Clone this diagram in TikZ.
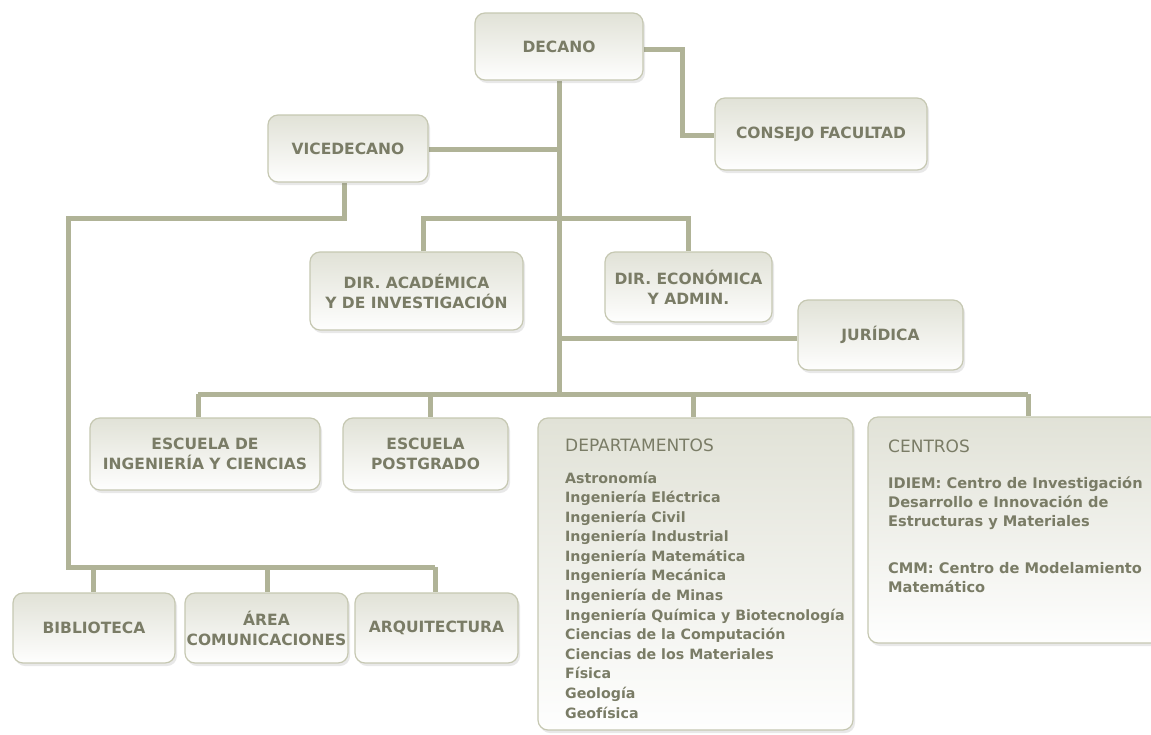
\documentclass[tikz,border=0pt]{standalone}
\usepackage{fontspec}
\setmainfont{DejaVu Sans}
\usetikzlibrary{shadows,backgrounds}
\definecolor{linec}{HTML}{B0B397}
\definecolor{boxdraw}{HTML}{C6C8B2}
\definecolor{boxtop}{HTML}{E1E2D7}
\definecolor{txtc}{HTML}{7A7C66}
\tikzset{
  orgbox/.style={draw=boxdraw, line width=1.2pt, rounded corners=10pt,
    top color=boxtop, bottom color=white!97!boxtop,
    drop shadow={shadow xshift=2pt, shadow yshift=-3pt, opacity=0.15, fill=black!60},
    text=txtc, font=\fontsize{15.5}{20}\selectfont\bfseries, align=center, inner sep=0pt},
  conn/.style={draw=linec, line width=5pt},
  hdr/.style={anchor=base west, inner sep=0pt, text=txtc, font=\fontsize{17}{20}\selectfont},
  item/.style={anchor=base west, inner sep=0pt, text=txtc, font=\fontsize{14.2}{19.6}\selectfont\bfseries, align=left},
  citem/.style={item, font=\fontsize{14.6}{19.6}\selectfont\bfseries},
}
\begin{document}
\begin{tikzpicture}[x=1pt,y=-1pt]
\useasboundingbox (0,0) rectangle (1151,734);

\coordinate (bar) at (559,394);
\coordinate (dr) at (682,49);
\coordinate (dcr) at (682,135);
\coordinate (vj) at (559,149);
\coordinate (jj) at (559,338);
\coordinate (vd1) at (344,218);
\coordinate (vd2) at (68,218);
\coordinate (vd3) at (68,567);
\coordinate (bb1) at (93,567);
\coordinate (bb2) at (267,567);
\coordinate (bb3) at (435,567);
\coordinate (ad1) at (423,218);
\coordinate (ad2) at (688,218);
\coordinate (mb1) at (198,394);
\coordinate (mb2) at (430,394);
\coordinate (mb3) at (693,394);
\coordinate (mb4) at (1028,394);

\node[orgbox, minimum width=168pt, minimum height=67pt] (decano) at (559,46.5) {DECANO};
\node[orgbox, minimum width=212pt, minimum height=72pt] (consejo) at (821,134) {CONSEJO FACULTAD};
\node[orgbox, minimum width=160pt, minimum height=67pt] (vice) at (348,148.5) {VICEDECANO};
\node[orgbox, minimum width=213pt, minimum height=78pt] (dacad) at (416.5,291) {DIR. ACADÉMICA\\Y DE INVESTIGACIÓN};
\node[orgbox, minimum width=167pt, minimum height=70pt] (decon) at (688.5,287) {DIR. ECONÓMICA\\Y ADMIN.};
\node[orgbox, minimum width=165pt, minimum height=70pt] (jur) at (880.5,335) {JURÍDICA};
\node[orgbox, minimum width=230pt, minimum height=72pt] (esc) at (205,454) {ESCUELA DE\\INGENIERÍA Y CIENCIAS};
\node[orgbox, minimum width=165pt, minimum height=72pt] (post) at (425.5,454) {ESCUELA\\POSTGRADO};
\node[orgbox, minimum width=315pt, minimum height=312pt] (depto) at (695.5,574) {};
\node[orgbox, minimum width=297pt, minimum height=226pt] (centros) at (1016.5,530) {};
\node[orgbox, minimum width=162pt, minimum height=70pt] (bib) at (94,628) {BIBLIOTECA};
\node[orgbox, minimum width=163pt, minimum height=70pt] (area) at (266.5,628) {ÁREA\\COMUNICACIONES};
\node[orgbox, minimum width=163pt, minimum height=70pt] (arq) at (436.5,628) {ARQUITECTURA};

\begin{scope}[on background layer]
\fill[white] (0,0) rectangle (1151,734);
\draw[conn] (decano.south) -- (bar);
\draw[conn] (dr -| decano.east) -- (dr) -- (dcr) -- (consejo.west |- dcr);
\draw[conn] (vice.east |- vj) -- (vj);
\draw[conn] (vice.south -| vd1) -- (vd1) -- (vd2) -- (vd3) -- (bb3);
\draw[conn] (bb1) -- (bib.north -| bb1);
\draw[conn] (bb2) -- (area.north -| bb2);
\draw[conn] (bb3) -- (arq.north -| bb3);
\draw[conn] (dacad.north -| ad1) -- (ad1) -- (ad2) -- (decon.north -| ad2);
\draw[conn] (jj) -- (jur.west |- jj);
\draw[conn] (mb1) -- (mb4);
\draw[conn] (mb1) -- (esc.north -| mb1);
\draw[conn] (mb2) -- (post.north -| mb2);
\draw[conn] (mb3) -- (depto.north -| mb3);
\draw[conn] (mb4) -- (centros.north -| mb4);
\end{scope}

% Departamentos text
\node[hdr] (dh) at (565,451) {DEPARTAMENTOS};
\node[item] (d1) at (565,483.0) {Astronomía};
\node[item] (d2) at (565,502.6) {Ingeniería Eléctrica};
\node[item] (d3) at (565,522.2) {Ingeniería Civil};
\node[item] (d4) at (565,541.8) {Ingeniería Industrial};
\node[item] (d5) at (565,561.3) {Ingeniería Matemática};
\node[item] (d6) at (565,580.9) {Ingeniería Mecánica};
\node[item] (d7) at (565,600.5) {Ingeniería de Minas};
\node[item] (d8) at (565,620.1) {Ingeniería Química y Biotecnología};
\node[item] (d9) at (565,639.7) {Ciencias de la Computación};
\node[item] (d10) at (565,659.3) {Ciencias de los Materiales};
\node[item] (d11) at (565,678.8) {Física};
\node[item] (d12) at (565,698.4) {Geología};
\node[item] (d13) at (565,718.0) {Geofísica};

% Centros text
\node[hdr] (ch) at (888,452) {CENTROS};
\node[citem] (c1) at (888,488) {IDIEM: Centro de Investigación};
\node[citem] (c2) at (888,507) {Desarrollo e Innovación de};
\node[citem] (c3) at (888,526) {Estructuras y Materiales};
\node[citem] (c4) at (888,573) {CMM: Centro de Modelamiento};
\node[citem] (c5) at (888,592) {Matemático};
\end{tikzpicture}
\end{document}
